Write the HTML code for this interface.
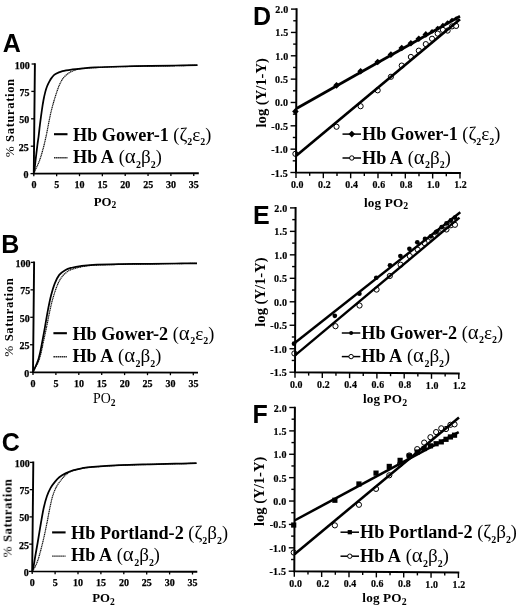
<!DOCTYPE html>
<html><head><meta charset="utf-8"><title>Figure</title>
<style>html,body{margin:0;padding:0;background:#fff;}svg{display:block;}text{fill:#000;}</style></head>
<body>
<svg width="520" height="609" viewBox="0 0 520 609">
<defs><filter id="soft" x="0" y="0" width="100%" height="100%" filterUnits="objectBoundingBox"><feGaussianBlur stdDeviation="0.38"/></filter></defs>
<g filter="url(#soft)">
<rect width="520" height="609" fill="#fff"/>
<text x="2.8" y="52.4" font-family='"Liberation Sans", sans-serif' font-size="25" font-weight="bold">A</text>
<path d="M34.91 63.2 L33.8 173.6 L198.8 173.2" fill="none" stroke="#000" stroke-width="1.9" stroke-linejoin="miter"/>
<line x1="31.6" y1="64" x2="34.9" y2="64" stroke="#000" stroke-width="1.3"/>
<text x="29.7" y="68.5" text-anchor="end" font-family='"Liberation Serif", serif' font-size="10" font-weight="bold" stroke="#000" stroke-width="0.25">100</text>
<line x1="31.32" y1="91.4" x2="34.62" y2="91.4" stroke="#000" stroke-width="1.3"/>
<text x="29.43" y="95.9" text-anchor="end" font-family='"Liberation Serif", serif' font-size="10" font-weight="bold" stroke="#000" stroke-width="0.25">75</text>
<line x1="31.05" y1="118.8" x2="34.35" y2="118.8" stroke="#000" stroke-width="1.3"/>
<text x="29.15" y="123.3" text-anchor="end" font-family='"Liberation Serif", serif' font-size="10" font-weight="bold" stroke="#000" stroke-width="0.25">50</text>
<line x1="30.77" y1="146.2" x2="34.07" y2="146.2" stroke="#000" stroke-width="1.3"/>
<text x="28.87" y="150.7" text-anchor="end" font-family='"Liberation Serif", serif' font-size="10" font-weight="bold" stroke="#000" stroke-width="0.25">25</text>
<line x1="30.5" y1="173.6" x2="33.8" y2="173.6" stroke="#000" stroke-width="1.3"/>
<text x="28.6" y="178.1" text-anchor="end" font-family='"Liberation Serif", serif' font-size="10" font-weight="bold" stroke="#000" stroke-width="0.25">0</text>
<line x1="33.8" y1="173.6" x2="33.8" y2="176.3" stroke="#000" stroke-width="1.3"/>
<text x="33.9" y="188.2" text-anchor="middle" font-family='"Liberation Serif", serif' font-size="10" font-weight="bold" stroke="#000" stroke-width="0.25">0</text>
<line x1="56.65" y1="173.54" x2="56.65" y2="176.24" stroke="#000" stroke-width="1.3"/>
<text x="56.75" y="188.14" text-anchor="middle" font-family='"Liberation Serif", serif' font-size="10" font-weight="bold" stroke="#000" stroke-width="0.25">5</text>
<line x1="79.5" y1="173.49" x2="79.5" y2="176.19" stroke="#000" stroke-width="1.3"/>
<text x="79.6" y="188.09" text-anchor="middle" font-family='"Liberation Serif", serif' font-size="10" font-weight="bold" stroke="#000" stroke-width="0.25">10</text>
<line x1="102.35" y1="173.43" x2="102.35" y2="176.13" stroke="#000" stroke-width="1.3"/>
<text x="102.45" y="188.03" text-anchor="middle" font-family='"Liberation Serif", serif' font-size="10" font-weight="bold" stroke="#000" stroke-width="0.25">15</text>
<line x1="125.2" y1="173.38" x2="125.2" y2="176.08" stroke="#000" stroke-width="1.3"/>
<text x="125.3" y="187.98" text-anchor="middle" font-family='"Liberation Serif", serif' font-size="10" font-weight="bold" stroke="#000" stroke-width="0.25">20</text>
<line x1="148.05" y1="173.32" x2="148.05" y2="176.02" stroke="#000" stroke-width="1.3"/>
<text x="148.15" y="187.92" text-anchor="middle" font-family='"Liberation Serif", serif' font-size="10" font-weight="bold" stroke="#000" stroke-width="0.25">25</text>
<line x1="170.9" y1="173.27" x2="170.9" y2="175.97" stroke="#000" stroke-width="1.3"/>
<text x="171" y="187.87" text-anchor="middle" font-family='"Liberation Serif", serif' font-size="10" font-weight="bold" stroke="#000" stroke-width="0.25">30</text>
<line x1="193.75" y1="173.21" x2="193.75" y2="175.91" stroke="#000" stroke-width="1.3"/>
<text x="193.85" y="187.81" text-anchor="middle" font-family='"Liberation Serif", serif' font-size="10" font-weight="bold" stroke="#000" stroke-width="0.25">35</text>
<text x="105" y="205.9" text-anchor="middle" font-family='"Liberation Serif", serif' font-size="12.8" font-weight="bold">PO<tspan font-size="9.5" font-weight="bold" dy="2.5">2</tspan></text>
<text transform="translate(13.6 117.8) rotate(-90)" text-anchor="middle" font-family='"Liberation Serif", serif' font-size="12.6" font-weight="bold" letter-spacing="0.62"><tspan font-weight="normal" font-size="13.2">%</tspan> Saturation</text>
<path d="M34.2 172.2C34.96 170.58 37.37 166.03 38.75 162.5C40.13 158.97 41.25 155.5 42.5 151C43.75 146.5 44.9 141.71 46.25 135.5C47.6 129.29 49.14 120.08 50.6 113.75C52.06 107.42 53.53 102.29 55 97.5C56.47 92.71 57.94 88.33 59.4 85C60.86 81.67 62.19 79.48 63.75 77.5C65.31 75.52 67.08 74.25 68.75 73.1C70.42 71.95 71.88 71.3 73.75 70.6C75.62 69.9 76.46 69.4 80 68.9C83.54 68.4 88.33 67.97 95 67.6C101.67 67.23 110.83 66.95 120 66.7C129.17 66.45 140.83 66.27 150 66.1C159.17 65.93 167.08 65.83 175 65.7C182.92 65.57 193.75 65.37 197.5 65.3" fill="none" stroke="#111" stroke-width="1.2" stroke-dasharray="1.3 0.5"/>
<path d="M34.2 172.5C34.42 170.58 34.97 165.58 35.5 161C36.03 156.42 36.88 149.17 37.4 145C37.92 140.83 38.23 139.33 38.65 136C39.07 132.67 39.36 129.33 39.9 125C40.44 120.67 41.3 114.17 41.9 110C42.5 105.83 42.93 103.02 43.5 100C44.07 96.98 44.72 94.15 45.3 91.9C45.88 89.65 46.33 88.22 47 86.5C47.67 84.78 48.47 83.12 49.3 81.6C50.13 80.08 50.97 78.65 52 77.4C53.03 76.15 53.75 75.15 55.5 74.1C57.25 73.05 59.67 71.88 62.5 71.1C65.33 70.32 69.17 69.85 72.5 69.4C75.83 68.95 78.75 68.73 82.5 68.4C86.25 68.07 88.75 67.72 95 67.4C101.25 67.08 110.83 66.75 120 66.5C129.17 66.25 140.83 66.07 150 65.9C159.17 65.73 167.08 65.63 175 65.5C182.92 65.37 193.75 65.17 197.5 65.1" fill="none" stroke="#000" stroke-width="1.75"/>
<line x1="54" y1="134.2" x2="67.5" y2="134.2" stroke="#000" stroke-width="2.1"/>
<line x1="54" y1="157.8" x2="67.5" y2="157.8" stroke="#2a2a2a" stroke-width="1.45" stroke-dasharray="1.6 0.45"/>
<text x="73" y="140.5" font-family='"Liberation Serif", serif' font-size="18.2" font-weight="bold" xml:space="preserve">Hb Gower-1 <tspan font-weight="normal">(</tspan><tspan font-weight="normal" font-size="19.11">ζ</tspan><tspan font-size="9.92" dy="4.9">2</tspan><tspan font-weight="normal" font-size="19.11" dy="-4.9">ε</tspan><tspan font-size="9.92" dy="4.9">2</tspan><tspan font-weight="normal" dy="-4.9">)</tspan></text>
<text x="73" y="163" font-family='"Liberation Serif", serif' font-size="18.2" font-weight="bold" xml:space="preserve">Hb A <tspan font-weight="normal" dx="1.2">(</tspan><tspan font-weight="normal" font-size="20.75" letter-spacing="0.5">α</tspan><tspan font-size="9.92" dy="4.9">2</tspan><tspan font-weight="normal" font-size="19.11" dy="-4.9">β</tspan><tspan font-size="9.92" dy="4.9">2</tspan><tspan font-weight="normal" dy="-4.9">)</tspan></text>
<text x="1.2" y="252.8" font-family='"Liberation Sans", sans-serif' font-size="25" font-weight="bold">B</text>
<path d="M34.11 261.6 L33 372.2 L198 372.6" fill="none" stroke="#000" stroke-width="1.9" stroke-linejoin="miter"/>
<line x1="30.8" y1="262.4" x2="34.1" y2="262.4" stroke="#000" stroke-width="1.3"/>
<text x="30.4" y="266.9" text-anchor="end" font-family='"Liberation Serif", serif' font-size="10" font-weight="bold" stroke="#000" stroke-width="0.25">100</text>
<line x1="30.53" y1="289.85" x2="33.83" y2="289.85" stroke="#000" stroke-width="1.3"/>
<text x="30.13" y="294.35" text-anchor="end" font-family='"Liberation Serif", serif' font-size="10" font-weight="bold" stroke="#000" stroke-width="0.25">75</text>
<line x1="30.25" y1="317.3" x2="33.55" y2="317.3" stroke="#000" stroke-width="1.3"/>
<text x="29.85" y="321.8" text-anchor="end" font-family='"Liberation Serif", serif' font-size="10" font-weight="bold" stroke="#000" stroke-width="0.25">50</text>
<line x1="29.97" y1="344.75" x2="33.27" y2="344.75" stroke="#000" stroke-width="1.3"/>
<text x="29.57" y="349.25" text-anchor="end" font-family='"Liberation Serif", serif' font-size="10" font-weight="bold" stroke="#000" stroke-width="0.25">25</text>
<line x1="29.7" y1="372.2" x2="33" y2="372.2" stroke="#000" stroke-width="1.3"/>
<text x="29.3" y="376.7" text-anchor="end" font-family='"Liberation Serif", serif' font-size="10" font-weight="bold" stroke="#000" stroke-width="0.25">0</text>
<line x1="33" y1="372.2" x2="33" y2="374.9" stroke="#000" stroke-width="1.3"/>
<text x="33.1" y="386.8" text-anchor="middle" font-family='"Liberation Serif", serif' font-size="10" font-weight="bold" stroke="#000" stroke-width="0.25">0</text>
<line x1="55.9" y1="372.26" x2="55.9" y2="374.96" stroke="#000" stroke-width="1.3"/>
<text x="56" y="386.86" text-anchor="middle" font-family='"Liberation Serif", serif' font-size="10" font-weight="bold" stroke="#000" stroke-width="0.25">5</text>
<line x1="78.8" y1="372.31" x2="78.8" y2="375.01" stroke="#000" stroke-width="1.3"/>
<text x="78.9" y="386.91" text-anchor="middle" font-family='"Liberation Serif", serif' font-size="10" font-weight="bold" stroke="#000" stroke-width="0.25">10</text>
<line x1="101.7" y1="372.37" x2="101.7" y2="375.07" stroke="#000" stroke-width="1.3"/>
<text x="101.8" y="386.97" text-anchor="middle" font-family='"Liberation Serif", serif' font-size="10" font-weight="bold" stroke="#000" stroke-width="0.25">15</text>
<line x1="124.6" y1="372.42" x2="124.6" y2="375.12" stroke="#000" stroke-width="1.3"/>
<text x="124.7" y="387.02" text-anchor="middle" font-family='"Liberation Serif", serif' font-size="10" font-weight="bold" stroke="#000" stroke-width="0.25">20</text>
<line x1="147.5" y1="372.48" x2="147.5" y2="375.18" stroke="#000" stroke-width="1.3"/>
<text x="147.6" y="387.08" text-anchor="middle" font-family='"Liberation Serif", serif' font-size="10" font-weight="bold" stroke="#000" stroke-width="0.25">25</text>
<line x1="170.4" y1="372.53" x2="170.4" y2="375.23" stroke="#000" stroke-width="1.3"/>
<text x="170.5" y="387.13" text-anchor="middle" font-family='"Liberation Serif", serif' font-size="10" font-weight="bold" stroke="#000" stroke-width="0.25">30</text>
<line x1="193.3" y1="372.59" x2="193.3" y2="375.29" stroke="#000" stroke-width="1.3"/>
<text x="193.4" y="387.19" text-anchor="middle" font-family='"Liberation Serif", serif' font-size="10" font-weight="bold" stroke="#000" stroke-width="0.25">35</text>
<text x="104.2" y="403.3" text-anchor="middle" font-family='"Liberation Serif", serif' font-size="13.9" font-weight="normal">PO<tspan font-size="9.5" font-weight="bold" dy="2.5">2</tspan></text>
<text transform="translate(12.6 317.2) rotate(-90)" text-anchor="middle" font-family='"Liberation Serif", serif' font-size="12.6" font-weight="bold" letter-spacing="0.62"><tspan font-weight="normal" font-size="13.2">%</tspan> Saturation</text>
<path d="M33.3 371.4C33.72 370.62 35.05 368.12 35.8 366.7C36.55 365.28 37.2 364.2 37.8 362.9C38.4 361.6 38.83 360.67 39.4 358.9C39.97 357.13 40.62 354.73 41.2 352.3C41.78 349.87 41.98 348.65 42.9 344.3C43.82 339.95 45.58 331.88 46.75 326.2C47.92 320.52 48.88 315.07 49.95 310.25C51.03 305.43 51.86 301.74 53.2 297.3C54.54 292.86 56.37 287.23 58 283.6C59.63 279.97 61.12 277.68 63 275.5C64.88 273.32 67.17 271.71 69.25 270.5C71.33 269.29 73.21 268.92 75.5 268.25C77.79 267.58 80.08 267 83 266.5C85.92 266 86.83 265.6 93 265.25C99.17 264.9 110.5 264.62 120 264.4C129.5 264.17 140.83 264.03 150 263.9C159.17 263.77 167.17 263.68 175 263.6C182.83 263.52 193.33 263.43 197 263.4" fill="none" stroke="#111" stroke-width="1.2" stroke-dasharray="1.3 0.5"/>
<path d="M33.3 371.4C33.67 370.58 34.85 367.97 35.5 366.5C36.15 365.03 36.68 363.9 37.2 362.6C37.72 361.3 38.1 360.42 38.6 358.7C39.1 356.98 39.68 354.67 40.2 352.3C40.73 349.93 40.97 348.67 41.75 344.5C42.53 340.33 43.84 333.18 44.9 327.3C45.96 321.42 47.07 314.54 48.1 309.2C49.13 303.86 50.02 299.48 51.1 295.25C52.18 291.02 53.24 287.19 54.6 283.8C55.96 280.41 57.43 277.22 59.25 274.9C61.07 272.58 63.42 271.09 65.5 269.9C67.58 268.71 69.25 268.38 71.75 267.75C74.25 267.12 76.96 266.58 80.5 266.1C84.04 265.62 86.42 265.22 93 264.9C99.58 264.58 110.5 264.38 120 264.2C129.5 264.02 140.83 263.92 150 263.8C159.17 263.68 167.17 263.58 175 263.5C182.83 263.42 193.33 263.33 197 263.3" fill="none" stroke="#000" stroke-width="1.75"/>
<line x1="53.4" y1="333.2" x2="66.9" y2="333.2" stroke="#000" stroke-width="2.1"/>
<line x1="53.4" y1="356.8" x2="66.9" y2="356.8" stroke="#2a2a2a" stroke-width="1.45" stroke-dasharray="1.6 0.45"/>
<text x="72.4" y="339.5" font-family='"Liberation Serif", serif' font-size="18.2" font-weight="bold" xml:space="preserve">Hb Gower-2 <tspan font-weight="normal">(</tspan><tspan font-weight="normal" font-size="20.75" letter-spacing="0.5">α</tspan><tspan font-size="9.92" dy="4.9">2</tspan><tspan font-weight="normal" font-size="19.11" dy="-4.9">ε</tspan><tspan font-size="9.92" dy="4.9">2</tspan><tspan font-weight="normal" dy="-4.9">)</tspan></text>
<text x="72.4" y="362" font-family='"Liberation Serif", serif' font-size="18.2" font-weight="bold" xml:space="preserve">Hb A <tspan font-weight="normal" dx="1.2">(</tspan><tspan font-weight="normal" font-size="20.75" letter-spacing="0.5">α</tspan><tspan font-size="9.92" dy="4.9">2</tspan><tspan font-weight="normal" font-size="19.11" dy="-4.9">β</tspan><tspan font-size="9.92" dy="4.9">2</tspan><tspan font-weight="normal" dy="-4.9">)</tspan></text>
<text x="1.8" y="450.8" font-family='"Liberation Sans", sans-serif' font-size="25" font-weight="bold">C</text>
<path d="M33.31 461.6 L32.2 571.4 L197.3 571.8" fill="none" stroke="#000" stroke-width="1.9" stroke-linejoin="miter"/>
<line x1="30" y1="462.4" x2="33.3" y2="462.4" stroke="#000" stroke-width="1.3"/>
<text x="29.8" y="466.9" text-anchor="end" font-family='"Liberation Serif", serif' font-size="10" font-weight="bold" stroke="#000" stroke-width="0.25">100</text>
<line x1="29.73" y1="489.65" x2="33.03" y2="489.65" stroke="#000" stroke-width="1.3"/>
<text x="29.53" y="494.15" text-anchor="end" font-family='"Liberation Serif", serif' font-size="10" font-weight="bold" stroke="#000" stroke-width="0.25">75</text>
<line x1="29.45" y1="516.9" x2="32.75" y2="516.9" stroke="#000" stroke-width="1.3"/>
<text x="29.25" y="521.4" text-anchor="end" font-family='"Liberation Serif", serif' font-size="10" font-weight="bold" stroke="#000" stroke-width="0.25">50</text>
<line x1="29.18" y1="544.15" x2="32.48" y2="544.15" stroke="#000" stroke-width="1.3"/>
<text x="28.98" y="548.65" text-anchor="end" font-family='"Liberation Serif", serif' font-size="10" font-weight="bold" stroke="#000" stroke-width="0.25">25</text>
<line x1="28.9" y1="571.4" x2="32.2" y2="571.4" stroke="#000" stroke-width="1.3"/>
<text x="28.7" y="575.9" text-anchor="end" font-family='"Liberation Serif", serif' font-size="10" font-weight="bold" stroke="#000" stroke-width="0.25">0</text>
<line x1="32.2" y1="571.4" x2="32.2" y2="574.1" stroke="#000" stroke-width="1.3"/>
<text x="32.3" y="586" text-anchor="middle" font-family='"Liberation Serif", serif' font-size="10" font-weight="bold" stroke="#000" stroke-width="0.25">0</text>
<line x1="55.1" y1="571.46" x2="55.1" y2="574.16" stroke="#000" stroke-width="1.3"/>
<text x="55.2" y="586.06" text-anchor="middle" font-family='"Liberation Serif", serif' font-size="10" font-weight="bold" stroke="#000" stroke-width="0.25">5</text>
<line x1="78" y1="571.51" x2="78" y2="574.21" stroke="#000" stroke-width="1.3"/>
<text x="78.1" y="586.11" text-anchor="middle" font-family='"Liberation Serif", serif' font-size="10" font-weight="bold" stroke="#000" stroke-width="0.25">10</text>
<line x1="100.9" y1="571.57" x2="100.9" y2="574.27" stroke="#000" stroke-width="1.3"/>
<text x="101" y="586.17" text-anchor="middle" font-family='"Liberation Serif", serif' font-size="10" font-weight="bold" stroke="#000" stroke-width="0.25">15</text>
<line x1="123.8" y1="571.62" x2="123.8" y2="574.32" stroke="#000" stroke-width="1.3"/>
<text x="123.9" y="586.22" text-anchor="middle" font-family='"Liberation Serif", serif' font-size="10" font-weight="bold" stroke="#000" stroke-width="0.25">20</text>
<line x1="146.7" y1="571.68" x2="146.7" y2="574.38" stroke="#000" stroke-width="1.3"/>
<text x="146.8" y="586.28" text-anchor="middle" font-family='"Liberation Serif", serif' font-size="10" font-weight="bold" stroke="#000" stroke-width="0.25">25</text>
<line x1="169.6" y1="571.73" x2="169.6" y2="574.43" stroke="#000" stroke-width="1.3"/>
<text x="169.7" y="586.33" text-anchor="middle" font-family='"Liberation Serif", serif' font-size="10" font-weight="bold" stroke="#000" stroke-width="0.25">30</text>
<line x1="192.5" y1="571.79" x2="192.5" y2="574.49" stroke="#000" stroke-width="1.3"/>
<text x="192.6" y="586.39" text-anchor="middle" font-family='"Liberation Serif", serif' font-size="10" font-weight="bold" stroke="#000" stroke-width="0.25">35</text>
<text x="103.4" y="602.2" text-anchor="middle" font-family='"Liberation Serif", serif' font-size="12.8" font-weight="bold">PO<tspan font-size="9.5" font-weight="bold" dy="2.5">2</tspan></text>
<text transform="translate(11.6 517.9) rotate(-90)" text-anchor="middle" font-family='"Liberation Serif", serif' font-size="12.6" font-weight="bold" letter-spacing="0.62"><tspan font-weight="normal" font-size="13.2">%</tspan> Saturation</text>
<path d="M32.5 570.8C32.85 570.3 33.85 569.18 34.6 567.8C35.35 566.42 36.23 564.47 37 562.5C37.77 560.53 38.1 559.96 39.2 556C40.3 552.04 42.25 544.54 43.6 538.75C44.95 532.96 46.2 526.67 47.3 521.25C48.4 515.83 49.25 510.62 50.2 506.25C51.15 501.88 51.91 498.33 53 495C54.09 491.67 55.4 488.75 56.75 486.25C58.1 483.75 59.89 481.61 61.1 480C62.31 478.39 62.93 477.68 64 476.6C65.07 475.52 66 474.5 67.5 473.5C69 472.5 70.62 471.45 73 470.6C75.38 469.75 78.42 469 81.75 468.4C85.08 467.8 86.62 467.52 93 467C99.38 466.48 110.5 465.73 120 465.3C129.5 464.87 140.83 464.65 150 464.4C159.17 464.15 167.25 463.98 175 463.8C182.75 463.62 192.92 463.38 196.5 463.3" fill="none" stroke="#111" stroke-width="1.2" stroke-dasharray="1.3 0.5"/>
<path d="M32.5 570.8C32.72 569.83 33.33 567.47 33.8 565C34.27 562.53 34.65 559.75 35.3 556C35.95 552.25 36.78 547.88 37.7 542.5C38.62 537.12 39.78 529.58 40.8 523.75C41.82 517.92 42.78 512.08 43.8 507.5C44.82 502.92 45.78 499.48 46.9 496.25C48.02 493.02 49.17 490.49 50.5 488.1C51.83 485.71 53.44 483.7 54.9 481.9C56.36 480.1 57.48 478.72 59.25 477.3C61.02 475.88 63.21 474.55 65.5 473.4C67.79 472.25 70.29 471.25 73 470.4C75.71 469.55 78.42 468.88 81.75 468.3C85.08 467.72 86.62 467.42 93 466.9C99.38 466.38 110.5 465.63 120 465.2C129.5 464.77 140.83 464.55 150 464.3C159.17 464.05 167.25 463.88 175 463.7C182.75 463.52 192.92 463.28 196.5 463.2" fill="none" stroke="#000" stroke-width="1.75"/>
<line x1="52.1" y1="532.4" x2="65.6" y2="532.4" stroke="#000" stroke-width="2.1"/>
<line x1="52.1" y1="556.1" x2="65.6" y2="556.1" stroke="#2a2a2a" stroke-width="1.45" stroke-dasharray="1.6 0.45"/>
<text x="71.1" y="538.7" font-family='"Liberation Serif", serif' font-size="18.2" font-weight="bold" xml:space="preserve">Hb Portland-2 <tspan font-weight="normal">(</tspan><tspan font-weight="normal" font-size="19.11">ζ</tspan><tspan font-size="9.92" dy="4.9">2</tspan><tspan font-weight="normal" font-size="19.11" dy="-4.9">β</tspan><tspan font-size="9.92" dy="4.9">2</tspan><tspan font-weight="normal" dy="-4.9">)</tspan></text>
<text x="71.1" y="561.3" font-family='"Liberation Serif", serif' font-size="18.2" font-weight="bold" xml:space="preserve">Hb A <tspan font-weight="normal" dx="1.2">(</tspan><tspan font-weight="normal" font-size="20.75" letter-spacing="0.5">α</tspan><tspan font-size="9.92" dy="4.9">2</tspan><tspan font-weight="normal" font-size="19.11" dy="-4.9">β</tspan><tspan font-size="9.92" dy="4.9">2</tspan><tspan font-weight="normal" dy="-4.9">)</tspan></text>
<text x="252.9" y="25" font-family='"Liberation Sans", sans-serif' font-size="25" font-weight="bold">D</text>
<line x1="291" y1="9.1" x2="296.6" y2="9.1" stroke="#000" stroke-width="1.4"/>
<text x="288.6" y="13.1" text-anchor="end" font-family='"Liberation Serif", serif' font-size="10" font-weight="bold" letter-spacing="0.25" stroke="#000" stroke-width="0.2">2.0</text>
<line x1="293.26" y1="20.77" x2="296.56" y2="20.77" stroke="#000" stroke-width="1.4"/>
<line x1="290.91" y1="32.44" x2="296.51" y2="32.44" stroke="#000" stroke-width="1.4"/>
<text x="288.51" y="36.44" text-anchor="end" font-family='"Liberation Serif", serif' font-size="10" font-weight="bold" letter-spacing="0.25" stroke="#000" stroke-width="0.2">1.5</text>
<line x1="293.17" y1="44.11" x2="296.47" y2="44.11" stroke="#000" stroke-width="1.4"/>
<line x1="290.83" y1="55.79" x2="296.43" y2="55.79" stroke="#000" stroke-width="1.4"/>
<text x="288.43" y="59.79" text-anchor="end" font-family='"Liberation Serif", serif' font-size="10" font-weight="bold" letter-spacing="0.25" stroke="#000" stroke-width="0.2">1.0</text>
<line x1="293.09" y1="67.46" x2="296.39" y2="67.46" stroke="#000" stroke-width="1.4"/>
<line x1="290.74" y1="79.13" x2="296.34" y2="79.13" stroke="#000" stroke-width="1.4"/>
<text x="288.34" y="83.13" text-anchor="end" font-family='"Liberation Serif", serif' font-size="10" font-weight="bold" letter-spacing="0.25" stroke="#000" stroke-width="0.2">0.5</text>
<line x1="293" y1="90.8" x2="296.3" y2="90.8" stroke="#000" stroke-width="1.4"/>
<line x1="290.66" y1="102.47" x2="296.26" y2="102.47" stroke="#000" stroke-width="1.4"/>
<text x="288.26" y="106.47" text-anchor="end" font-family='"Liberation Serif", serif' font-size="10" font-weight="bold" letter-spacing="0.25" stroke="#000" stroke-width="0.2">0.0</text>
<line x1="292.91" y1="114.14" x2="296.21" y2="114.14" stroke="#000" stroke-width="1.4"/>
<line x1="290.57" y1="125.81" x2="296.17" y2="125.81" stroke="#000" stroke-width="1.4"/>
<text x="288.17" y="129.81" text-anchor="end" font-family='"Liberation Serif", serif' font-size="10" font-weight="bold" letter-spacing="0.25" stroke="#000" stroke-width="0.2">-0.5</text>
<line x1="292.83" y1="137.49" x2="296.13" y2="137.49" stroke="#000" stroke-width="1.4"/>
<line x1="290.49" y1="149.16" x2="296.09" y2="149.16" stroke="#000" stroke-width="1.4"/>
<text x="288.09" y="153.16" text-anchor="end" font-family='"Liberation Serif", serif' font-size="10" font-weight="bold" letter-spacing="0.25" stroke="#000" stroke-width="0.2">-1.0</text>
<line x1="292.74" y1="160.83" x2="296.04" y2="160.83" stroke="#000" stroke-width="1.4"/>
<line x1="290.4" y1="172.5" x2="296" y2="172.5" stroke="#000" stroke-width="1.4"/>
<text x="288" y="176.5" text-anchor="end" font-family='"Liberation Serif", serif' font-size="10" font-weight="bold" letter-spacing="0.25" stroke="#000" stroke-width="0.2">-1.5</text>
<line x1="296" y1="172.5" x2="296" y2="178.1" stroke="#000" stroke-width="1.4"/>
<text x="297.3" y="187.8" text-anchor="middle" font-family='"Liberation Serif", serif' font-size="9.9" font-weight="bold" letter-spacing="0.15" stroke="#000" stroke-width="0.2">0.0</text>
<line x1="309.67" y1="172.54" x2="309.67" y2="175.84" stroke="#000" stroke-width="1.4"/>
<line x1="323.33" y1="172.58" x2="323.33" y2="178.18" stroke="#000" stroke-width="1.4"/>
<text x="324.51" y="187.88" text-anchor="middle" font-family='"Liberation Serif", serif' font-size="9.9" font-weight="bold" letter-spacing="0.15" stroke="#000" stroke-width="0.2">0.2</text>
<line x1="337" y1="172.62" x2="337" y2="175.93" stroke="#000" stroke-width="1.4"/>
<line x1="350.66" y1="172.67" x2="350.66" y2="178.27" stroke="#000" stroke-width="1.4"/>
<text x="351.72" y="187.97" text-anchor="middle" font-family='"Liberation Serif", serif' font-size="9.9" font-weight="bold" letter-spacing="0.15" stroke="#000" stroke-width="0.2">0.4</text>
<line x1="364.32" y1="172.71" x2="364.32" y2="176.01" stroke="#000" stroke-width="1.4"/>
<line x1="377.99" y1="172.75" x2="377.99" y2="178.35" stroke="#000" stroke-width="1.4"/>
<text x="378.93" y="188.05" text-anchor="middle" font-family='"Liberation Serif", serif' font-size="9.9" font-weight="bold" letter-spacing="0.15" stroke="#000" stroke-width="0.2">0.6</text>
<line x1="391.65" y1="172.79" x2="391.65" y2="176.09" stroke="#000" stroke-width="1.4"/>
<line x1="405.32" y1="172.83" x2="405.32" y2="178.43" stroke="#000" stroke-width="1.4"/>
<text x="406.14" y="188.13" text-anchor="middle" font-family='"Liberation Serif", serif' font-size="9.9" font-weight="bold" letter-spacing="0.15" stroke="#000" stroke-width="0.2">0.8</text>
<line x1="418.99" y1="172.88" x2="418.99" y2="176.18" stroke="#000" stroke-width="1.4"/>
<line x1="432.65" y1="172.92" x2="432.65" y2="178.52" stroke="#000" stroke-width="1.4"/>
<text x="433.35" y="188.22" text-anchor="middle" font-family='"Liberation Serif", serif' font-size="9.9" font-weight="bold" letter-spacing="0.15" stroke="#000" stroke-width="0.2">1.0</text>
<line x1="446.31" y1="172.96" x2="446.31" y2="176.26" stroke="#000" stroke-width="1.4"/>
<line x1="459.98" y1="173" x2="459.98" y2="178.6" stroke="#000" stroke-width="1.4"/>
<text x="460.56" y="188.3" text-anchor="middle" font-family='"Liberation Serif", serif' font-size="9.9" font-weight="bold" letter-spacing="0.15" stroke="#000" stroke-width="0.2">1.2</text>
<text x="386.19" y="206.6" text-anchor="middle" font-family='"Liberation Serif", serif' font-size="13.2" font-weight="bold" letter-spacing="0.15">log PO<tspan font-size="9.8" dy="2.6">2</tspan></text>
<text transform="translate(265.7 92.8) rotate(-90)" text-anchor="middle" font-family='"Liberation Serif", serif' font-size="14.6" font-weight="bold">log (Y/1-Y)</text>
<circle cx="295.4" cy="153.83" r="2.6" fill="#fff" stroke="#000" stroke-width="1"/>
<circle cx="336.54" cy="126.75" r="2.6" fill="#fff" stroke="#000" stroke-width="1"/>
<circle cx="360.6" cy="106.21" r="2.6" fill="#fff" stroke="#000" stroke-width="1"/>
<circle cx="377.67" cy="90.33" r="2.6" fill="#fff" stroke="#000" stroke-width="1"/>
<circle cx="390.91" cy="76.79" r="2.6" fill="#fff" stroke="#000" stroke-width="1"/>
<circle cx="401.73" cy="65.59" r="2.6" fill="#fff" stroke="#000" stroke-width="1"/>
<circle cx="410.88" cy="56.95" r="2.6" fill="#fff" stroke="#000" stroke-width="1"/>
<circle cx="418.81" cy="50.65" r="2.6" fill="#fff" stroke="#000" stroke-width="1"/>
<circle cx="425.8" cy="44.11" r="2.6" fill="#fff" stroke="#000" stroke-width="1"/>
<circle cx="432.05" cy="38.75" r="2.6" fill="#fff" stroke="#000" stroke-width="1"/>
<circle cx="437.71" cy="33.61" r="2.6" fill="#fff" stroke="#000" stroke-width="1"/>
<circle cx="442.87" cy="29.88" r="2.6" fill="#fff" stroke="#000" stroke-width="1"/>
<circle cx="447.62" cy="30.58" r="2.6" fill="#fff" stroke="#000" stroke-width="1"/>
<circle cx="452.02" cy="26.37" r="2.6" fill="#fff" stroke="#000" stroke-width="1"/>
<circle cx="456.11" cy="25.91" r="2.6" fill="#fff" stroke="#000" stroke-width="1"/>
<path d="M292.1 111.39L295.4 108.09L298.7 111.39L295.4 114.69Z" fill="#000"/>
<path d="M333.24 85.33L336.54 82.03L339.84 85.33L336.54 88.63Z" fill="#000"/>
<path d="M357.3 71.26L360.6 67.96L363.9 71.26L360.6 74.56Z" fill="#000"/>
<path d="M374.37 62.07L377.67 58.77L380.97 62.07L377.67 65.37Z" fill="#000"/>
<path d="M387.61 54.58L390.91 51.28L394.21 54.58L390.91 57.88Z" fill="#000"/>
<path d="M398.43 48L401.73 44.7L405.03 48L401.73 51.3Z" fill="#000"/>
<path d="M407.58 43.29L410.88 39.99L414.18 43.29L410.88 46.59Z" fill="#000"/>
<path d="M415.51 38.81L418.81 35.51L422.11 38.81L418.81 42.11Z" fill="#000"/>
<path d="M422.5 34.39L425.8 31.09L429.1 34.39L425.8 37.69Z" fill="#000"/>
<path d="M429.67 31.32L432.05 28.95L434.43 31.32L432.05 33.7Z" fill="#000"/>
<path d="M435.33 28.12L437.71 25.75L440.08 28.12L437.71 30.5Z" fill="#000"/>
<path d="M440.49 25.2L442.87 22.83L445.25 25.2L442.87 27.58Z" fill="#000"/>
<path d="M445.24 22.52L447.62 20.14L450 22.52L447.62 24.89Z" fill="#000"/>
<path d="M449.64 20.03L452.02 17.66L454.39 20.03L452.02 22.41Z" fill="#000"/>
<path d="M453.74 18.65L456.11 16.27L458.49 18.65L456.11 21.03Z" fill="#000"/>
<line x1="296.5" y1="155.6" x2="460" y2="19.3" stroke="#000" stroke-width="2.65"/>
<line x1="296.5" y1="108.5" x2="460" y2="16.25" stroke="#000" stroke-width="2.65"/>
<path d="M296.6 8.3 L296 172.5 L460.88 173" fill="none" stroke="#000" stroke-width="2"/>
<line x1="342.5" y1="134.1" x2="361" y2="134.1" stroke="#000" stroke-width="1.5"/>
<path d="M348.5 134.1L351.8 130.8L355.1 134.1L351.8 137.4Z" fill="#000"/>
<line x1="342.5" y1="158" x2="361" y2="158" stroke="#000" stroke-width="1.5"/>
<circle cx="351.8" cy="158" r="2.21" fill="#fff" stroke="#000" stroke-width="1"/>
<text x="362" y="139.6" font-family='"Liberation Serif", serif' font-size="18.2" font-weight="bold" xml:space="preserve">Hb Gower-1 <tspan font-weight="normal">(</tspan><tspan font-weight="normal" font-size="19.11">ζ</tspan><tspan font-size="9.92" dy="4.9">2</tspan><tspan font-weight="normal" font-size="19.11" dy="-4.9">ε</tspan><tspan font-size="9.92" dy="4.9">2</tspan><tspan font-weight="normal" dy="-4.9">)</tspan></text>
<text x="362" y="163.5" font-family='"Liberation Serif", serif' font-size="18.2" font-weight="bold" xml:space="preserve">Hb A <tspan font-weight="normal" dx="1.2">(</tspan><tspan font-weight="normal" font-size="20.75" letter-spacing="0.5">α</tspan><tspan font-size="9.92" dy="4.9">2</tspan><tspan font-weight="normal" font-size="19.11" dy="-4.9">β</tspan><tspan font-size="9.92" dy="4.9">2</tspan><tspan font-weight="normal" dy="-4.9">)</tspan></text>
<text x="253" y="224.1" font-family='"Liberation Sans", sans-serif' font-size="25" font-weight="bold">E</text>
<line x1="290" y1="207.9" x2="295.6" y2="207.9" stroke="#000" stroke-width="1.4"/>
<text x="287.6" y="211.9" text-anchor="end" font-family='"Liberation Serif", serif' font-size="10" font-weight="bold" letter-spacing="0.25" stroke="#000" stroke-width="0.2">2.0</text>
<line x1="292.26" y1="219.64" x2="295.56" y2="219.64" stroke="#000" stroke-width="1.4"/>
<line x1="289.91" y1="231.37" x2="295.51" y2="231.37" stroke="#000" stroke-width="1.4"/>
<text x="287.51" y="235.37" text-anchor="end" font-family='"Liberation Serif", serif' font-size="10" font-weight="bold" letter-spacing="0.25" stroke="#000" stroke-width="0.2">1.5</text>
<line x1="292.17" y1="243.11" x2="295.47" y2="243.11" stroke="#000" stroke-width="1.4"/>
<line x1="289.83" y1="254.84" x2="295.43" y2="254.84" stroke="#000" stroke-width="1.4"/>
<text x="287.43" y="258.84" text-anchor="end" font-family='"Liberation Serif", serif' font-size="10" font-weight="bold" letter-spacing="0.25" stroke="#000" stroke-width="0.2">1.0</text>
<line x1="292.09" y1="266.58" x2="295.39" y2="266.58" stroke="#000" stroke-width="1.4"/>
<line x1="289.74" y1="278.31" x2="295.34" y2="278.31" stroke="#000" stroke-width="1.4"/>
<text x="287.34" y="282.31" text-anchor="end" font-family='"Liberation Serif", serif' font-size="10" font-weight="bold" letter-spacing="0.25" stroke="#000" stroke-width="0.2">0.5</text>
<line x1="292" y1="290.05" x2="295.3" y2="290.05" stroke="#000" stroke-width="1.4"/>
<line x1="289.66" y1="301.79" x2="295.26" y2="301.79" stroke="#000" stroke-width="1.4"/>
<text x="287.26" y="305.79" text-anchor="end" font-family='"Liberation Serif", serif' font-size="10" font-weight="bold" letter-spacing="0.25" stroke="#000" stroke-width="0.2">0.0</text>
<line x1="291.91" y1="313.52" x2="295.21" y2="313.52" stroke="#000" stroke-width="1.4"/>
<line x1="289.57" y1="325.26" x2="295.17" y2="325.26" stroke="#000" stroke-width="1.4"/>
<text x="287.17" y="329.26" text-anchor="end" font-family='"Liberation Serif", serif' font-size="10" font-weight="bold" letter-spacing="0.25" stroke="#000" stroke-width="0.2">-0.5</text>
<line x1="291.83" y1="336.99" x2="295.13" y2="336.99" stroke="#000" stroke-width="1.4"/>
<line x1="289.49" y1="348.73" x2="295.09" y2="348.73" stroke="#000" stroke-width="1.4"/>
<text x="287.09" y="352.73" text-anchor="end" font-family='"Liberation Serif", serif' font-size="10" font-weight="bold" letter-spacing="0.25" stroke="#000" stroke-width="0.2">-1.0</text>
<line x1="291.74" y1="360.46" x2="295.04" y2="360.46" stroke="#000" stroke-width="1.4"/>
<line x1="289.4" y1="372.2" x2="295" y2="372.2" stroke="#000" stroke-width="1.4"/>
<text x="287" y="376.2" text-anchor="end" font-family='"Liberation Serif", serif' font-size="10" font-weight="bold" letter-spacing="0.25" stroke="#000" stroke-width="0.2">-1.5</text>
<line x1="295" y1="372.2" x2="295" y2="377.8" stroke="#000" stroke-width="1.4"/>
<text x="296.3" y="387.5" text-anchor="middle" font-family='"Liberation Serif", serif' font-size="9.9" font-weight="bold" letter-spacing="0.15" stroke="#000" stroke-width="0.2">0.0</text>
<line x1="308.65" y1="372.3" x2="308.65" y2="375.6" stroke="#000" stroke-width="1.4"/>
<line x1="322.3" y1="372.4" x2="322.3" y2="378" stroke="#000" stroke-width="1.4"/>
<text x="323.48" y="387.7" text-anchor="middle" font-family='"Liberation Serif", serif' font-size="9.9" font-weight="bold" letter-spacing="0.15" stroke="#000" stroke-width="0.2">0.2</text>
<line x1="335.95" y1="372.5" x2="335.95" y2="375.8" stroke="#000" stroke-width="1.4"/>
<line x1="349.6" y1="372.6" x2="349.6" y2="378.2" stroke="#000" stroke-width="1.4"/>
<text x="350.66" y="387.9" text-anchor="middle" font-family='"Liberation Serif", serif' font-size="9.9" font-weight="bold" letter-spacing="0.15" stroke="#000" stroke-width="0.2">0.4</text>
<line x1="363.25" y1="372.7" x2="363.25" y2="376" stroke="#000" stroke-width="1.4"/>
<line x1="376.9" y1="372.8" x2="376.9" y2="378.4" stroke="#000" stroke-width="1.4"/>
<text x="377.84" y="388.1" text-anchor="middle" font-family='"Liberation Serif", serif' font-size="9.9" font-weight="bold" letter-spacing="0.15" stroke="#000" stroke-width="0.2">0.6</text>
<line x1="390.55" y1="372.9" x2="390.55" y2="376.2" stroke="#000" stroke-width="1.4"/>
<line x1="404.2" y1="373" x2="404.2" y2="378.6" stroke="#000" stroke-width="1.4"/>
<text x="405.02" y="388.3" text-anchor="middle" font-family='"Liberation Serif", serif' font-size="9.9" font-weight="bold" letter-spacing="0.15" stroke="#000" stroke-width="0.2">0.8</text>
<line x1="417.85" y1="373.1" x2="417.85" y2="376.4" stroke="#000" stroke-width="1.4"/>
<line x1="431.5" y1="373.2" x2="431.5" y2="378.8" stroke="#000" stroke-width="1.4"/>
<text x="432.2" y="388.5" text-anchor="middle" font-family='"Liberation Serif", serif' font-size="9.9" font-weight="bold" letter-spacing="0.15" stroke="#000" stroke-width="0.2">1.0</text>
<line x1="445.15" y1="373.3" x2="445.15" y2="376.6" stroke="#000" stroke-width="1.4"/>
<line x1="458.8" y1="373.4" x2="458.8" y2="379" stroke="#000" stroke-width="1.4"/>
<text x="459.38" y="388.7" text-anchor="middle" font-family='"Liberation Serif", serif' font-size="9.9" font-weight="bold" letter-spacing="0.15" stroke="#000" stroke-width="0.2">1.2</text>
<text x="385.1" y="403" text-anchor="middle" font-family='"Liberation Serif", serif' font-size="13.2" font-weight="bold" letter-spacing="0.15">log PO<tspan font-size="9.8" dy="2.6">2</tspan></text>
<text transform="translate(264.7 292.05) rotate(-90)" text-anchor="middle" font-family='"Liberation Serif", serif' font-size="14.6" font-weight="bold">log (Y/1-Y)</text>
<circle cx="294.4" cy="353.42" r="2.6" fill="#fff" stroke="#000" stroke-width="1"/>
<circle cx="335.49" cy="326.2" r="2.6" fill="#fff" stroke="#000" stroke-width="1"/>
<circle cx="359.53" cy="305.54" r="2.6" fill="#fff" stroke="#000" stroke-width="1"/>
<circle cx="376.58" cy="289.58" r="2.6" fill="#fff" stroke="#000" stroke-width="1"/>
<circle cx="389.81" cy="275.97" r="2.6" fill="#fff" stroke="#000" stroke-width="1"/>
<circle cx="400.62" cy="264.7" r="2.6" fill="#fff" stroke="#000" stroke-width="1"/>
<circle cx="409.76" cy="256.02" r="2.6" fill="#fff" stroke="#000" stroke-width="1"/>
<circle cx="417.67" cy="249.68" r="2.6" fill="#fff" stroke="#000" stroke-width="1"/>
<circle cx="424.65" cy="243.11" r="2.6" fill="#fff" stroke="#000" stroke-width="1"/>
<circle cx="430.9" cy="237.71" r="2.6" fill="#fff" stroke="#000" stroke-width="1"/>
<circle cx="436.55" cy="232.54" r="2.6" fill="#fff" stroke="#000" stroke-width="1"/>
<circle cx="441.71" cy="228.79" r="2.6" fill="#fff" stroke="#000" stroke-width="1"/>
<circle cx="446.45" cy="229.49" r="2.6" fill="#fff" stroke="#000" stroke-width="1"/>
<circle cx="450.85" cy="225.27" r="2.6" fill="#fff" stroke="#000" stroke-width="1"/>
<circle cx="454.94" cy="224.8" r="2.6" fill="#fff" stroke="#000" stroke-width="1"/>
<circle cx="294" cy="343.7" r="2.35" fill="#000"/>
<circle cx="334.8" cy="315.8" r="2.35" fill="#000"/>
<circle cx="359.4" cy="293.75" r="2.35" fill="#000"/>
<circle cx="376.25" cy="277.75" r="2.35" fill="#000"/>
<circle cx="390" cy="265.25" r="2.35" fill="#000"/>
<circle cx="400.4" cy="256" r="2.35" fill="#000"/>
<circle cx="409.4" cy="248.8" r="2.35" fill="#000"/>
<circle cx="417.3" cy="242.3" r="2.35" fill="#000"/>
<circle cx="425" cy="238.9" r="2.35" fill="#000"/>
<circle cx="430.9" cy="236.3" r="2.35" fill="#000"/>
<circle cx="436.55" cy="231.8" r="2.35" fill="#000"/>
<circle cx="441.71" cy="227.22" r="2.35" fill="#000"/>
<circle cx="446.45" cy="223.44" r="2.35" fill="#000"/>
<circle cx="450.85" cy="220.41" r="2.35" fill="#000"/>
<circle cx="454.94" cy="217.62" r="2.35" fill="#000"/>
<line x1="295" y1="355.4" x2="459.5" y2="217.6" stroke="#000" stroke-width="2.4"/>
<line x1="295" y1="342.7" x2="460.3" y2="212.2" stroke="#000" stroke-width="2.4"/>
<path d="M295.6 207.1 L295 372.2 L459.7 373.4" fill="none" stroke="#000" stroke-width="2"/>
<line x1="341.8" y1="333" x2="360.3" y2="333" stroke="#000" stroke-width="1.5"/>
<circle cx="351.1" cy="333" r="2" fill="#000"/>
<line x1="341.8" y1="356.6" x2="360.3" y2="356.6" stroke="#000" stroke-width="1.5"/>
<circle cx="351.1" cy="356.6" r="2.21" fill="#fff" stroke="#000" stroke-width="1"/>
<text x="361.3" y="338.5" font-family='"Liberation Serif", serif' font-size="18.2" font-weight="bold" xml:space="preserve">Hb Gower-2 <tspan font-weight="normal">(</tspan><tspan font-weight="normal" font-size="20.75" letter-spacing="0.5">α</tspan><tspan font-size="9.92" dy="4.9">2</tspan><tspan font-weight="normal" font-size="19.11" dy="-4.9">ε</tspan><tspan font-size="9.92" dy="4.9">2</tspan><tspan font-weight="normal" dy="-4.9">)</tspan></text>
<text x="361.3" y="362.1" font-family='"Liberation Serif", serif' font-size="18.2" font-weight="bold" xml:space="preserve">Hb A <tspan font-weight="normal" dx="1.2">(</tspan><tspan font-weight="normal" font-size="20.75" letter-spacing="0.5">α</tspan><tspan font-size="9.92" dy="4.9">2</tspan><tspan font-weight="normal" font-size="19.11" dy="-4.9">β</tspan><tspan font-size="9.92" dy="4.9">2</tspan><tspan font-weight="normal" dy="-4.9">)</tspan></text>
<text x="252.6" y="422.6" font-family='"Liberation Sans", sans-serif' font-size="25" font-weight="bold">F</text>
<line x1="289.3" y1="407.5" x2="294.9" y2="407.5" stroke="#000" stroke-width="1.4"/>
<text x="286.9" y="411.5" text-anchor="end" font-family='"Liberation Serif", serif' font-size="10" font-weight="bold" letter-spacing="0.25" stroke="#000" stroke-width="0.2">2.0</text>
<line x1="291.56" y1="419.19" x2="294.86" y2="419.19" stroke="#000" stroke-width="1.4"/>
<line x1="289.21" y1="430.89" x2="294.81" y2="430.89" stroke="#000" stroke-width="1.4"/>
<text x="286.81" y="434.89" text-anchor="end" font-family='"Liberation Serif", serif' font-size="10" font-weight="bold" letter-spacing="0.25" stroke="#000" stroke-width="0.2">1.5</text>
<line x1="291.47" y1="442.58" x2="294.77" y2="442.58" stroke="#000" stroke-width="1.4"/>
<line x1="289.13" y1="454.27" x2="294.73" y2="454.27" stroke="#000" stroke-width="1.4"/>
<text x="286.73" y="458.27" text-anchor="end" font-family='"Liberation Serif", serif' font-size="10" font-weight="bold" letter-spacing="0.25" stroke="#000" stroke-width="0.2">1.0</text>
<line x1="291.39" y1="465.96" x2="294.69" y2="465.96" stroke="#000" stroke-width="1.4"/>
<line x1="289.04" y1="477.66" x2="294.64" y2="477.66" stroke="#000" stroke-width="1.4"/>
<text x="286.64" y="481.66" text-anchor="end" font-family='"Liberation Serif", serif' font-size="10" font-weight="bold" letter-spacing="0.25" stroke="#000" stroke-width="0.2">0.5</text>
<line x1="291.3" y1="489.35" x2="294.6" y2="489.35" stroke="#000" stroke-width="1.4"/>
<line x1="288.96" y1="501.04" x2="294.56" y2="501.04" stroke="#000" stroke-width="1.4"/>
<text x="286.56" y="505.04" text-anchor="end" font-family='"Liberation Serif", serif' font-size="10" font-weight="bold" letter-spacing="0.25" stroke="#000" stroke-width="0.2">0.0</text>
<line x1="291.21" y1="512.74" x2="294.51" y2="512.74" stroke="#000" stroke-width="1.4"/>
<line x1="288.87" y1="524.43" x2="294.47" y2="524.43" stroke="#000" stroke-width="1.4"/>
<text x="286.47" y="528.43" text-anchor="end" font-family='"Liberation Serif", serif' font-size="10" font-weight="bold" letter-spacing="0.25" stroke="#000" stroke-width="0.2">-0.5</text>
<line x1="291.13" y1="536.12" x2="294.43" y2="536.12" stroke="#000" stroke-width="1.4"/>
<line x1="288.79" y1="547.81" x2="294.39" y2="547.81" stroke="#000" stroke-width="1.4"/>
<text x="286.39" y="551.81" text-anchor="end" font-family='"Liberation Serif", serif' font-size="10" font-weight="bold" letter-spacing="0.25" stroke="#000" stroke-width="0.2">-1.0</text>
<line x1="291.04" y1="559.51" x2="294.34" y2="559.51" stroke="#000" stroke-width="1.4"/>
<line x1="288.7" y1="571.2" x2="294.3" y2="571.2" stroke="#000" stroke-width="1.4"/>
<text x="286.3" y="575.2" text-anchor="end" font-family='"Liberation Serif", serif' font-size="10" font-weight="bold" letter-spacing="0.25" stroke="#000" stroke-width="0.2">-1.5</text>
<line x1="294.3" y1="571.2" x2="294.3" y2="576.8" stroke="#000" stroke-width="1.4"/>
<text x="295.6" y="586.5" text-anchor="middle" font-family='"Liberation Serif", serif' font-size="9.9" font-weight="bold" letter-spacing="0.15" stroke="#000" stroke-width="0.2">0.0</text>
<line x1="307.98" y1="571.3" x2="307.98" y2="574.6" stroke="#000" stroke-width="1.4"/>
<line x1="321.65" y1="571.4" x2="321.65" y2="577" stroke="#000" stroke-width="1.4"/>
<text x="322.83" y="586.7" text-anchor="middle" font-family='"Liberation Serif", serif' font-size="9.9" font-weight="bold" letter-spacing="0.15" stroke="#000" stroke-width="0.2">0.2</text>
<line x1="335.33" y1="571.5" x2="335.33" y2="574.8" stroke="#000" stroke-width="1.4"/>
<line x1="349" y1="571.6" x2="349" y2="577.2" stroke="#000" stroke-width="1.4"/>
<text x="350.06" y="586.9" text-anchor="middle" font-family='"Liberation Serif", serif' font-size="9.9" font-weight="bold" letter-spacing="0.15" stroke="#000" stroke-width="0.2">0.4</text>
<line x1="362.68" y1="571.7" x2="362.68" y2="575" stroke="#000" stroke-width="1.4"/>
<line x1="376.35" y1="571.8" x2="376.35" y2="577.4" stroke="#000" stroke-width="1.4"/>
<text x="377.29" y="587.1" text-anchor="middle" font-family='"Liberation Serif", serif' font-size="9.9" font-weight="bold" letter-spacing="0.15" stroke="#000" stroke-width="0.2">0.6</text>
<line x1="390.03" y1="571.9" x2="390.03" y2="575.2" stroke="#000" stroke-width="1.4"/>
<line x1="403.7" y1="572" x2="403.7" y2="577.6" stroke="#000" stroke-width="1.4"/>
<text x="404.52" y="587.3" text-anchor="middle" font-family='"Liberation Serif", serif' font-size="9.9" font-weight="bold" letter-spacing="0.15" stroke="#000" stroke-width="0.2">0.8</text>
<line x1="417.38" y1="572.1" x2="417.38" y2="575.4" stroke="#000" stroke-width="1.4"/>
<line x1="431.05" y1="572.2" x2="431.05" y2="577.8" stroke="#000" stroke-width="1.4"/>
<text x="431.75" y="587.5" text-anchor="middle" font-family='"Liberation Serif", serif' font-size="9.9" font-weight="bold" letter-spacing="0.15" stroke="#000" stroke-width="0.2">1.0</text>
<line x1="444.73" y1="572.3" x2="444.73" y2="575.6" stroke="#000" stroke-width="1.4"/>
<line x1="458.4" y1="572.4" x2="458.4" y2="578" stroke="#000" stroke-width="1.4"/>
<text x="458.98" y="587.7" text-anchor="middle" font-family='"Liberation Serif", serif' font-size="9.9" font-weight="bold" letter-spacing="0.15" stroke="#000" stroke-width="0.2">1.2</text>
<text x="384.55" y="602" text-anchor="middle" font-family='"Liberation Serif", serif' font-size="13.2" font-weight="bold" letter-spacing="0.15">log PO<tspan font-size="9.8" dy="2.6">2</tspan></text>
<text transform="translate(264 491.35) rotate(-90)" text-anchor="middle" font-family='"Liberation Serif", serif' font-size="14.6" font-weight="bold">log (Y/1-Y)</text>
<circle cx="293.7" cy="552.49" r="2.6" fill="#fff" stroke="#000" stroke-width="1"/>
<circle cx="334.87" cy="525.36" r="2.6" fill="#fff" stroke="#000" stroke-width="1"/>
<circle cx="358.95" cy="504.78" r="2.6" fill="#fff" stroke="#000" stroke-width="1"/>
<circle cx="376.03" cy="488.88" r="2.6" fill="#fff" stroke="#000" stroke-width="1"/>
<circle cx="389.28" cy="475.32" r="2.6" fill="#fff" stroke="#000" stroke-width="1"/>
<circle cx="400.11" cy="464.09" r="2.6" fill="#fff" stroke="#000" stroke-width="1"/>
<circle cx="409.27" cy="455.44" r="2.6" fill="#fff" stroke="#000" stroke-width="1"/>
<circle cx="417.2" cy="449.13" r="2.6" fill="#fff" stroke="#000" stroke-width="1"/>
<circle cx="424.19" cy="442.58" r="2.6" fill="#fff" stroke="#000" stroke-width="1"/>
<circle cx="430.45" cy="437.2" r="2.6" fill="#fff" stroke="#000" stroke-width="1"/>
<circle cx="436.11" cy="432.06" r="2.6" fill="#fff" stroke="#000" stroke-width="1"/>
<circle cx="441.28" cy="428.31" r="2.6" fill="#fff" stroke="#000" stroke-width="1"/>
<circle cx="446.03" cy="429.01" r="2.6" fill="#fff" stroke="#000" stroke-width="1"/>
<circle cx="450.43" cy="424.81" r="2.6" fill="#fff" stroke="#000" stroke-width="1"/>
<circle cx="454.53" cy="424.34" r="2.6" fill="#fff" stroke="#000" stroke-width="1"/>
<rect x="291.1" y="522.44" width="5.2" height="5.2" fill="#000"/>
<rect x="332.27" y="497.65" width="5.2" height="5.2" fill="#000"/>
<rect x="356.35" y="481.38" width="5.2" height="5.2" fill="#000"/>
<rect x="373.43" y="470.52" width="5.2" height="5.2" fill="#000"/>
<rect x="386.68" y="463.83" width="5.2" height="5.2" fill="#000"/>
<rect x="397.51" y="457.76" width="5.2" height="5.2" fill="#000"/>
<rect x="406.67" y="453.28" width="5.2" height="5.2" fill="#000"/>
<rect x="414.6" y="449.47" width="5.2" height="5.2" fill="#000"/>
<rect x="421.59" y="445.93" width="5.2" height="5.2" fill="#000"/>
<rect x="427.85" y="443.25" width="5.2" height="5.2" fill="#000"/>
<rect x="433.51" y="441.13" width="5.2" height="5.2" fill="#000"/>
<rect x="438.68" y="439.28" width="5.2" height="5.2" fill="#000"/>
<rect x="443.43" y="436.71" width="5.2" height="5.2" fill="#000"/>
<rect x="447.83" y="434.34" width="5.2" height="5.2" fill="#000"/>
<rect x="451.93" y="432.59" width="5.2" height="5.2" fill="#000"/>
<line x1="294.5" y1="554.2" x2="459" y2="417.5" stroke="#000" stroke-width="2.55"/>
<line x1="294.5" y1="520.5" x2="458.7" y2="432.2" stroke="#000" stroke-width="2.55"/>
<path d="M294.9 406.7 L294.3 571.2 L459.3 572.4" fill="none" stroke="#000" stroke-width="2"/>
<line x1="340.5" y1="532.2" x2="359" y2="532.2" stroke="#000" stroke-width="1.5"/>
<rect x="347.67" y="530.07" width="4.26" height="4.26" fill="#000"/>
<line x1="340.5" y1="556.2" x2="359" y2="556.2" stroke="#000" stroke-width="1.5"/>
<circle cx="349.8" cy="556.2" r="2.21" fill="#fff" stroke="#000" stroke-width="1"/>
<text x="360" y="537.7" font-family='"Liberation Serif", serif' font-size="18.2" font-weight="bold" xml:space="preserve">Hb Portland-2 <tspan font-weight="normal">(</tspan><tspan font-weight="normal" font-size="19.11">ζ</tspan><tspan font-size="9.92" dy="4.9">2</tspan><tspan font-weight="normal" font-size="19.11" dy="-4.9">β</tspan><tspan font-size="9.92" dy="4.9">2</tspan><tspan font-weight="normal" dy="-4.9">)</tspan></text>
<text x="360" y="561.7" font-family='"Liberation Serif", serif' font-size="18.2" font-weight="bold" xml:space="preserve">Hb A <tspan font-weight="normal" dx="1.2">(</tspan><tspan font-weight="normal" font-size="20.75" letter-spacing="0.5">α</tspan><tspan font-size="9.92" dy="4.9">2</tspan><tspan font-weight="normal" font-size="19.11" dy="-4.9">β</tspan><tspan font-size="9.92" dy="4.9">2</tspan><tspan font-weight="normal" dy="-4.9">)</tspan></text>
</g>
</svg>
</body></html>
